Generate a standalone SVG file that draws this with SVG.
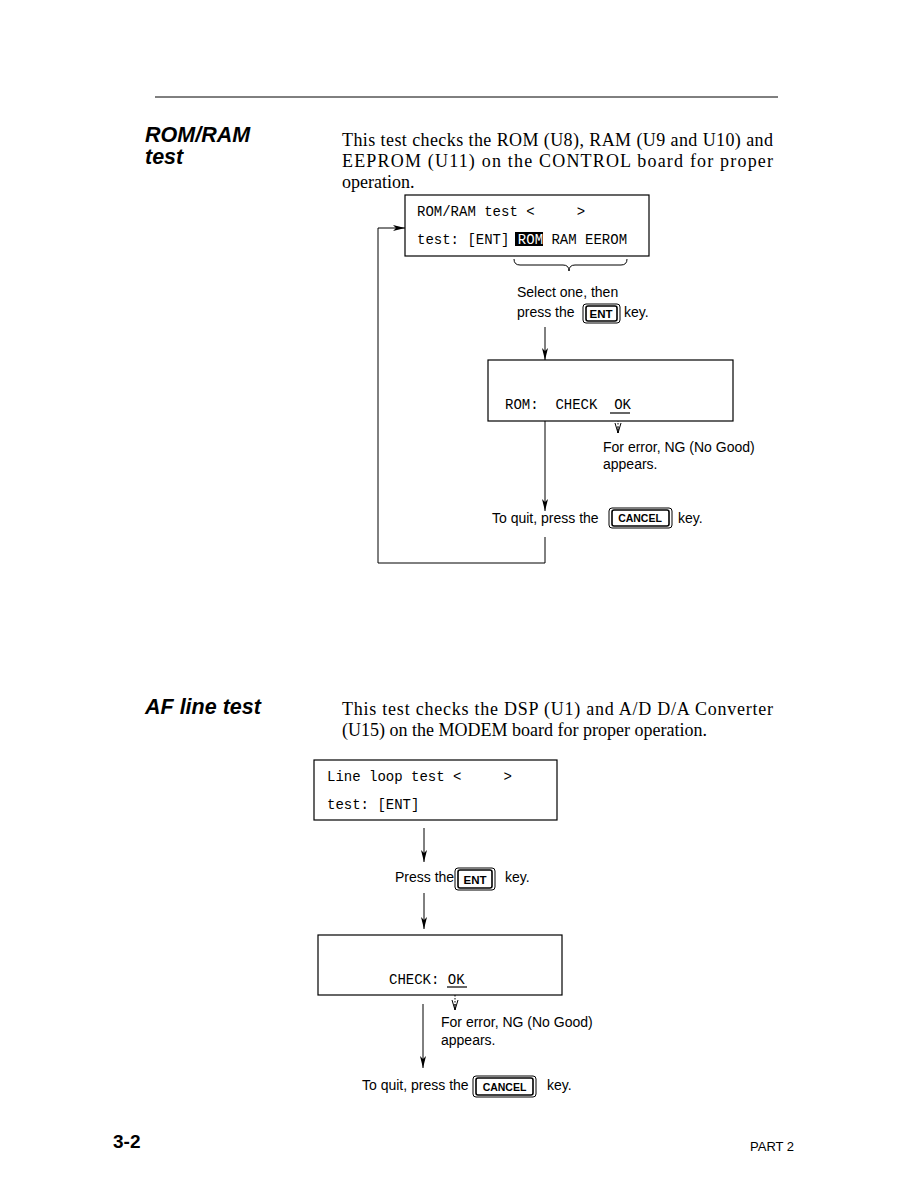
<svg xmlns="http://www.w3.org/2000/svg" width="918" height="1188" viewBox="0 0 918 1188">
<style>
.serif{font-family:"Liberation Serif","Times New Roman",serif;font-size:18px;fill:#000}
.head{font-family:"Liberation Sans",Arial,sans-serif;font-size:21.5px;font-weight:bold;font-style:italic;fill:#000}
.mono{font-family:"Liberation Mono","Courier New",monospace;font-size:14px;fill:#000}
.sans{font-family:"Liberation Sans",Arial,sans-serif;font-size:14px;fill:#000}
.keyt{font-family:"Liberation Sans",Arial,sans-serif;font-size:11.5px;font-weight:bold;fill:#000;text-anchor:middle}
.box{fill:#fff;stroke:#000;stroke-width:1.2}
.ln{fill:none;stroke:#000;stroke-width:1}
.dot{fill:none;stroke:#000;stroke-width:1;stroke-dasharray:1.5,1.5}
.k1{fill:#fff;stroke:#000;stroke-width:1}
.k2{fill:none;stroke:#000;stroke-width:1.6}
</style>
<defs>
<marker id="ah" viewBox="0 0 12 6" refX="12" refY="3" markerWidth="12" markerHeight="6" markerUnits="userSpaceOnUse" orient="auto">
<path d="M0,0 L12,3 L0,6 L3,3 Z" fill="#000"/>
</marker>
<marker id="oh" viewBox="0 0 10 8" refX="10" refY="4" markerWidth="10" markerHeight="8" markerUnits="userSpaceOnUse" orient="auto">
<path d="M0,1 L10,4 L0,7 M4,4 L10,4" fill="none" stroke="#000" stroke-width="1"/>
</marker>
</defs>

<line x1="155" y1="97" x2="778" y2="97" stroke="#000" stroke-width="1"/>

<g id="rom-ram-heading">
<text class="head" x="145" y="142">ROM/RAM</text>
<text class="head" x="145" y="164">test</text>
</g>
<g id="rom-ram-desc">
<text class="serif" x="342" y="146" textLength="431" lengthAdjust="spacing">This test checks the ROM (U8), RAM (U9 and U10) and</text>
<text class="serif" x="342" y="167" textLength="431" lengthAdjust="spacing">EEPROM (U11) on the CONTROL board for proper</text>
<text class="serif" x="342" y="188">operation.</text>
</g>

<g id="connectors">
<polyline class="ln" points="545,537 545,563 378,563 378,228 405,228" marker-end="url(#ah)"/>
<path class="ln" d="M514,259 Q514,265 520,265 L563,265 Q569,265 569,271 Q569,265 575,265 L621,265 Q627,265 627,259"/>
<line class="ln" x1="545" y1="327" x2="545" y2="360" marker-end="url(#ah)"/>
<line class="dot" x1="618" y1="414" x2="618" y2="433" marker-end="url(#oh)"/>
<line class="ln" x1="545" y1="421" x2="545" y2="511" marker-end="url(#ah)"/>
<line class="ln" x1="424" y1="828" x2="424" y2="862" marker-end="url(#ah)"/>
<line class="ln" x1="424" y1="893" x2="424" y2="929" marker-end="url(#ah)"/>
<line class="dot" x1="455" y1="989" x2="455" y2="1010" marker-end="url(#oh)"/>
<line class="ln" x1="423" y1="1004" x2="423" y2="1068" marker-end="url(#ah)"/>
</g>

<g id="box-romram-menu">
<rect class="box" x="405" y="195" width="244" height="61"/>
<text class="mono" x="417" y="216" xml:space="preserve">ROM/RAM test &lt;     &gt;</text>
<rect x="515" y="232" width="28" height="14" fill="#000"/>
<text class="mono" x="417" y="244" xml:space="preserve">test: [ENT] <tspan fill="#fff">ROM</tspan> RAM EEROM</text>
</g>

<g id="select-note">
<text class="sans" x="517" y="297">Select one, then</text>
<text class="sans" x="517" y="317">press the</text>
<rect class="k1" x="583" y="304" width="37" height="19" rx="3"/>
<rect class="k2" x="586" y="306" width="31" height="15" rx="2"/>
<text class="keyt" x="601" y="318">ENT</text>
<text class="sans" x="624" y="317">key.</text>
</g>

<g id="box-rom-check">
<rect class="box" x="488" y="360" width="245" height="61"/>
<text class="mono" x="505" y="409" xml:space="preserve">ROM:  CHECK  OK</text>
<line x1="610" y1="413" x2="630" y2="413" stroke="#000" stroke-width="1.2"/>
</g>

<g id="error-note-1">
<text class="sans" x="603" y="452">For error, NG (No Good)</text>
<text class="sans" x="603" y="469">appears.</text>
</g>

<g id="quit-note-1">
<text class="sans" x="492" y="523">To quit, press the</text>
<rect class="k1" x="609" y="508" width="63" height="20" rx="3"/>
<rect class="k2" x="612" y="510" width="57" height="16" rx="2"/>
<text class="keyt" x="640" y="522" style="font-size:10.5px">CANCEL</text>
<text class="sans" x="678" y="523">key.</text>
</g>

<g id="af-heading">
<text class="head" x="145" y="714">AF line test</text>
</g>
<g id="af-desc">
<text class="serif" x="342" y="715" textLength="431" lengthAdjust="spacing">This test checks the DSP (U1) and A/D D/A Converter</text>
<text class="serif" x="342" y="736">(U15) on the MODEM board for proper operation.</text>
</g>

<g id="box-lineloop">
<rect class="box" x="314" y="760" width="243" height="60"/>
<text class="mono" x="327" y="781" xml:space="preserve">Line loop test &lt;     &gt;</text>
<text class="mono" x="327" y="809" xml:space="preserve">test: [ENT]</text>
</g>

<g id="press-ent">
<text class="sans" x="395" y="882">Press the</text>
<rect class="k1" x="455" y="868" width="40" height="22" rx="3"/>
<rect class="k2" x="458" y="870" width="34" height="18" rx="2"/>
<text class="keyt" x="475" y="884">ENT</text>
<text class="sans" x="505" y="882">key.</text>
</g>

<g id="box-check">
<rect class="box" x="318" y="935" width="244" height="60"/>
<text class="mono" x="389" y="984" xml:space="preserve">CHECK: OK</text>
<line x1="447" y1="987" x2="467" y2="987" stroke="#000" stroke-width="1.2"/>
</g>

<g id="error-note-2">
<text class="sans" x="441" y="1027">For error, NG (No Good)</text>
<text class="sans" x="441" y="1045">appears.</text>
</g>

<g id="quit-note-2">
<text class="sans" x="362" y="1090">To quit, press the</text>
<rect class="k1" x="473" y="1076" width="63" height="21" rx="3"/>
<rect class="k2" x="476" y="1078" width="57" height="17" rx="2"/>
<text class="keyt" x="504.5" y="1091" style="font-size:10.5px">CANCEL</text>
<text class="sans" x="547" y="1090">key.</text>
</g>

<g id="footer">
<text x="113" y="1148" style="font-family:'Liberation Sans',Arial,sans-serif;font-size:19px;font-weight:bold">3-2</text>
<text x="750" y="1151" style="font-family:'Liberation Sans',Arial,sans-serif;font-size:13px">PART 2</text>
</g>
</svg>
